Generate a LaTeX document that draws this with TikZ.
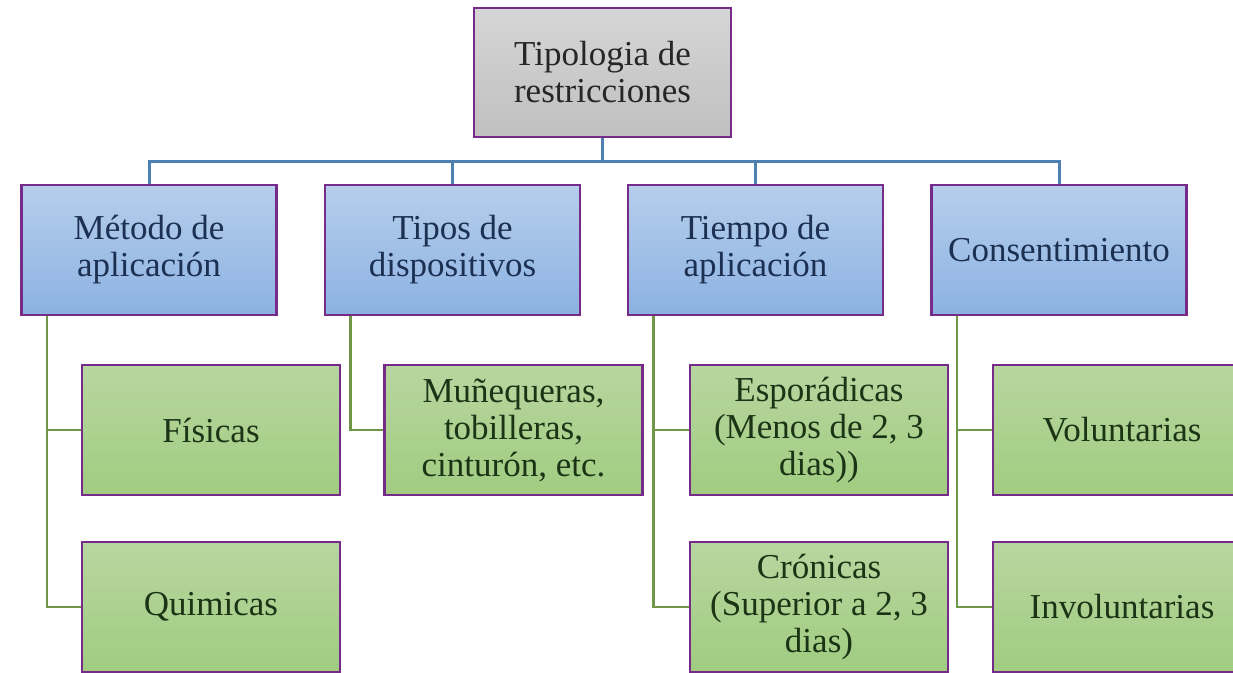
\documentclass[tikz,border=0pt]{standalone}
\usepackage{fontspec}
\setmainfont{Liberation Serif}
\usepackage{xcolor}
\definecolor{box-purple}{RGB}{118,42,138}
\definecolor{bus-blue}{RGB}{78,128,178}
\definecolor{leaf-green}{RGB}{112,150,72}
\definecolor{group-top}{RGB}{182,206,236}
\definecolor{group-bottom}{RGB}{140,178,226}
\definecolor{leaf-top}{RGB}{184,214,160}
\definecolor{leaf-bottom}{RGB}{160,204,128}
\definecolor{group-text}{RGB}{28,48,82}
\definecolor{leaf-text}{RGB}{28,52,22}
\usetikzlibrary{calc}

\begin{document}
\begin{tikzpicture}[
	x=1pt,y=-1pt,
	every node/.style={font=\fontsize{35}{37}\selectfont,align=center},
	rootbox/.style={draw=box-purple,line width=2.8pt,top color=black!16,bottom color=black!25,
		text=black!85,minimum width=257pt,minimum height=129pt,inner sep=2pt},
	groupbox/.style={draw=box-purple,line width=2.8pt,top color=group-top,
		bottom color=group-bottom,text=group-text,minimum width=255pt,minimum height=130pt,inner sep=2pt},
	leafbox/.style={draw=box-purple,line width=2.8pt,top color=leaf-top,
		bottom color=leaf-bottom,text=leaf-text,minimum width=258pt,minimum height=130pt,inner sep=2pt},
	bus/.style={bus-blue,line width=3pt},
	leaf/.style={leaf-green,line width=2.5pt}
	]
	\useasboundingbox (0,0) rectangle (1233,672);
	\fill[white] (0,0) rectangle (1233,672);

	\node[rootbox] (root) at (602.5,72.5) {Tipologia de\\restricciones};

	\node[groupbox] (metodo) at (149,250) {Método de\\aplicación};
	\node[groupbox] (tipos) at (452.5,250) {Tipos de\\dispositivos};
	\node[groupbox] (tiempo) at (755.5,250) {Tiempo de\\aplicación};
	\node[groupbox] (consent) at (1059,250) {Consentimiento};

	\node[leafbox] (fisicas) at (211,430) {Físicas};
	\node[leafbox] (quimicas) at (211,607) {Quimicas};
	\node[leafbox] (munequeras) at (513.5,430) {Muñequeras,\\tobilleras,\\cinturón, etc.};
	\node[leafbox] (esporadicas) at (819,430) {Esporádicas\\(Menos de 2, 3\\dias))};
	\node[leafbox] (cronicas) at (819,607) {Crónicas\\(Superior a 2, 3\\dias)};
	\node[leafbox] (voluntarias) at (1122,430) {Voluntarias};
	\node[leafbox] (involuntarias) at (1122,607) {Involuntarias};

	% bus from the root to the four groups
	\foreach \g in {metodo,tipos,tiempo,consent}
		\draw[bus] (root.south) -- ++(0,23) -| (\g.north);

	% leaves hang off the left side of each group
	\draw[leaf] ([xshift=27pt]metodo.south west) |- (fisicas.west);
	\draw[leaf] ([xshift=27pt]metodo.south west) |- (quimicas.west);
	\draw[leaf] ([xshift=27pt]tipos.south west) |- (munequeras.west);
	\draw[leaf] ([xshift=27pt]tiempo.south west) |- (esporadicas.west);
	\draw[leaf] ([xshift=27pt]tiempo.south west) |- (cronicas.west);
	\draw[leaf] ([xshift=27pt]consent.south west) |- (voluntarias.west);
	\draw[leaf] ([xshift=27pt]consent.south west) |- (involuntarias.west);
\end{tikzpicture}
\end{document}
